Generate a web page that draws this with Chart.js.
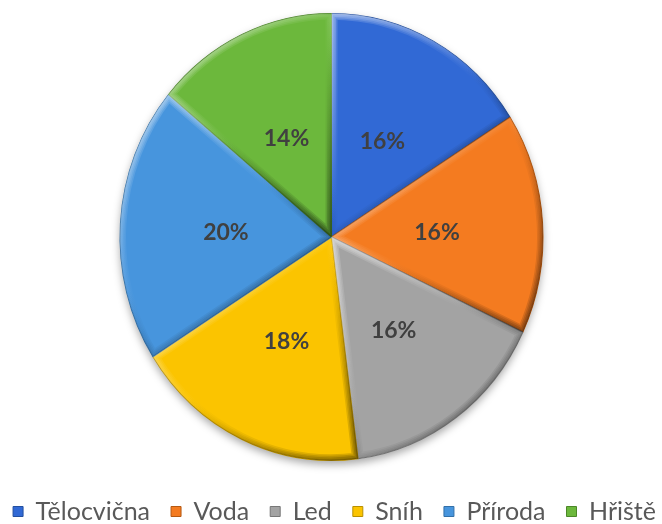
<!DOCTYPE html>
<html>
<head>
<meta charset="utf-8">
<script src="https://cdn.jsdelivr.net/npm/chart.js@4/dist/chart.umd.min.js"></script>
<style>
  html, body { margin: 0; padding: 0; background: #fff; overflow: hidden; width: 662px; height: 524px; }
  #wrap { position: absolute; left: -28px; top: -10px; width: 719px; height: 544px; }
</style>
</head>
<body>
<div id="wrap"><canvas id="c"></canvas></div>
<script>
// Shares of activities (percent), clockwise from 12 o'clock
const categories = ['Tělocvična', 'Voda', 'Led', 'Sníh', 'Příroda', 'Hřiště'];
const shares = [16, 16, 16, 18, 20, 14];
const sliceColors = ['#3169d5', '#f47b20', '#a3a3a3', '#fbc400', '#4795dd', '#6cb83c'];
const edgeColors = ['#234f9f', '#b55912', '#777777', '#b88f00', '#3270a8', '#4c8728'];

// pie is drawn slightly taller than wide
const stretchY = 223.5 / 211.5;
// legend row sits a little right of the pie centre
const legendShift = 3;

function sliceGeom(el) {
  return el.getProps(['x', 'y', 'startAngle', 'endAngle', 'outerRadius'], true);
}

function sliceBBox(g) {
  const pts = [[g.x, g.y]];
  const add = a => pts.push([g.x + g.outerRadius * Math.cos(a), g.y + g.outerRadius * Math.sin(a)]);
  add(g.startAngle); add(g.endAngle);
  for (let k = -4; k <= 8; k++) {
    const a = k * Math.PI / 2;
    if (a > g.startAngle && a < g.endAngle) add(a);
  }
  const xs = pts.map(p => p[0]), ys = pts.map(p => p[1]);
  return { x0: Math.min(...xs), y0: Math.min(...ys), x1: Math.max(...xs), y1: Math.max(...ys) };
}

const pieLook = {
  id: 'pieLook',
  afterLayout(chart) {
    if (chart.legend) {
      chart.legend.left += legendShift;
      chart.legend.right += legendShift;
    }
  },
  beforeDatasetsDraw(chart) {
    const ctx = chart.ctx;
    const arcs = chart.getDatasetMeta(0).data;
    if (!arcs.length) return;
    const g = sliceGeom(arcs[0]);
    ctx.save();
    ctx.translate(g.x, g.y);
    ctx.scale(1, stretchY);
    ctx.translate(-g.x, -g.y);
    // soft drop shadow under the pie
    ctx.save();
    ctx.shadowColor = 'rgba(0,0,0,0.35)';
    ctx.shadowBlur = 9;
    ctx.shadowOffsetY = 4;
    ctx.beginPath();
    ctx.arc(g.x, g.y, g.outerRadius, 0, Math.PI * 2);
    ctx.fillStyle = '#ffffff';
    ctx.fill();
    ctx.restore();
  },
  afterDatasetsDraw(chart) {
    const ctx = chart.ctx;
    const arcs = chart.getDatasetMeta(0).data;
    if (!arcs.length) return;
    // bevel shading along the edges of each slice
    arcs.forEach(el => {
      const g = sliceGeom(el);
      const b = sliceBBox(g);
      ctx.save();
      ctx.beginPath();
      ctx.moveTo(g.x, g.y);
      ctx.arc(g.x, g.y, g.outerRadius, g.startAngle, g.endAngle);
      ctx.closePath();
      ctx.clip();
      const grad = ctx.createLinearGradient(b.x0, b.y0, b.x1, b.y1);
      grad.addColorStop(0, 'rgba(255,255,255,0.18)');
      grad.addColorStop(0.45, 'rgba(255,255,255,0.02)');
      grad.addColorStop(0.55, 'rgba(0,0,0,0.02)');
      grad.addColorStop(1, 'rgba(0,0,0,0.16)');
      ctx.strokeStyle = grad;
      ctx.lineJoin = 'round';
      [3, 6, 9, 12].forEach(w => { ctx.lineWidth = w; ctx.stroke(); });
      ctx.restore();
    });
    const c = sliceGeom(arcs[0]);
    ctx.restore();

    // percentage labels at half radius
    const total = shares.reduce((a, v) => a + v, 0);
    ctx.save();
    ctx.font = 'bold 23px Lato';
    ctx.fillStyle = '#404040';
    ctx.textAlign = 'center';
    ctx.textBaseline = 'middle';
    arcs.forEach((el, i) => {
      const p = el.tooltipPosition(true);
      const y = c.y + (p.y - c.y) * stretchY;
      ctx.fillText(Math.round(shares[i] / total * 100) + '%', p.x, y + 3);
    });
    ctx.restore();
  }
};

new Chart(document.getElementById('c'), {
  type: 'pie',
  data: {
    labels: categories,
    datasets: [{
      data: shares,
      backgroundColor: sliceColors,
      borderColor: edgeColors,
      borderWidth: 1
    }]
  },
  options: {
    responsive: true,
    maintainAspectRatio: false,
    animation: false,
    events: [],
    radius: 211.5,
    layout: { padding: { top: 6, bottom: 0, left: 0, right: 0 } },
    plugins: {
      tooltip: { enabled: false },
      legend: {
        position: 'bottom',
        labels: {
          font: { family: 'Lato', size: 25 },
          color: '#595959',
          boxWidth: 10,
          boxHeight: 10,
          padding: 21
        }
      }
    }
  },
  plugins: [pieLook]
});
</script>
</body>
</html>
